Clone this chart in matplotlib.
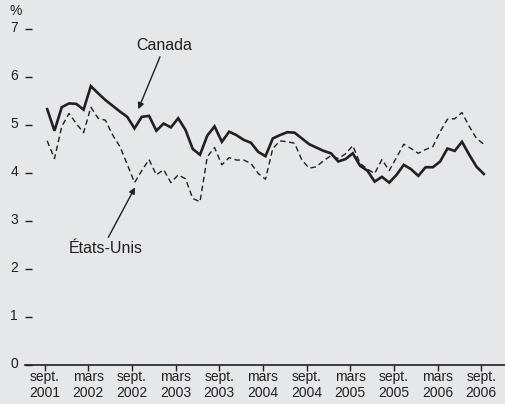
import numpy as np
import matplotlib
matplotlib.use("Agg")
import matplotlib.pyplot as plt
from matplotlib.transforms import ScaledTranslation

plt.rcParams['font.family'] = ['Liberation Sans', 'DejaVu Sans']

# mensuel, sept. 2001 a sept. 2006
canada = [5.33, 4.88, 5.37, 5.45, 5.44, 5.32, 5.81, 5.66, 5.52, 5.40,
          5.28, 5.17, 4.93, 5.17, 5.19, 4.88, 5.03, 4.95, 5.14, 4.90,
          4.50, 4.38, 4.78, 4.97, 4.65, 4.86, 4.79, 4.69, 4.63, 4.44,
          4.35, 4.72, 4.79, 4.85, 4.84, 4.72, 4.60, 4.53, 4.46, 4.41,
          4.24, 4.29, 4.41, 4.15, 4.05, 3.82, 3.92, 3.80, 3.96, 4.17,
          4.08, 3.94, 4.12, 4.12, 4.24, 4.51, 4.46, 4.65, 4.38, 4.13,
          3.98]
etats_unis = [4.67, 4.30, 4.97, 5.24, 5.03, 4.84, 5.37, 5.14, 5.10, 4.79,
              4.55, 4.18, 3.80, 4.05, 4.28, 3.96, 4.07, 3.80, 3.96, 3.88,
              3.47, 3.40, 4.34, 4.53, 4.17, 4.32, 4.27, 4.27, 4.20, 3.99,
              3.87, 4.51, 4.67, 4.65, 4.62, 4.27, 4.10, 4.13, 4.26, 4.36,
              4.30, 4.40, 4.57, 4.20, 4.08, 3.99, 4.28, 4.05, 4.32, 4.60,
              4.51, 4.41, 4.49, 4.55, 4.86, 5.12, 5.13, 5.26, 4.97, 4.72,
              4.60]
xlabels = ['sept.\n2001', 'mars\n2002', 'sept.\n2002', 'mars\n2003',
           'sept.\n2003', 'mars\n2004', 'sept.\n2004', 'mars\n2005',
           'sept.\n2005', 'mars\n2006', 'sept.\n2006']
ink = '#231f20'
bg = '#e6e7e8'

x = np.arange(len(canada)) + 0.35  # points au milieu du mois

fig = plt.figure(figsize=(5.06, 4.04), dpi=100, facecolor=bg)
ax = fig.add_axes([25/506, 39/404, 481/506, 336/404], facecolor=bg)

ax.plot(x, canada, color=ink, lw=1.9, solid_joinstyle='miter')
ax.plot(x, etats_unis, color=ink, lw=1.0, dashes=(4, 2.5))

ax.set_xlim(-2.7, 63.4)
ax.set_ylim(0, 7)
for s in ['top', 'right', 'left']:
    ax.spines[s].set_visible(False)
ax.spines['bottom'].set_color(ink)
ax.spines['bottom'].set_linewidth(1.2)

ax.set_xticks(np.arange(0, 61, 6))
ax.set_xticklabels(xlabels, linespacing=1.15)
ax.tick_params(axis='x', direction='out', length=4.5, width=1, color=ink,
               labelsize=10, labelcolor=ink, pad=-1)
ax.set_yticks(range(8))
ax.tick_params(axis='y', direction='in', length=5, width=1, color=ink,
               labelsize=10, labelcolor=ink, pad=5)
up = ScaledTranslation(0, 2/100, fig.dpi_scale_trans)
for lab in ax.get_yticklabels():
    lab.set_transform(lab.get_transform() + up)

fig.text(16/506, 1 - 11/404, '%', fontsize=10, color=ink, ha='center', va='center')

arr = dict(arrowstyle='-|>', color=ink, lw=1, shrinkA=0, shrinkB=0, mutation_scale=9)
ax.text(16.4, 6.65, 'Canada', fontsize=11.5, color=ink, ha='center', va='center')
ax.annotate('', xy=(12.87, 5.33), xytext=(15.85, 6.42), arrowprops=arr)
ax.text(8.43, 2.42, 'États-Unis', fontsize=11.5, color=ink, ha='center', va='center')
ax.annotate('', xy=(12.42, 3.70), xytext=(8.75, 2.66), arrowprops=arr)

fig.savefig('out.png', dpi=100, facecolor=bg)
